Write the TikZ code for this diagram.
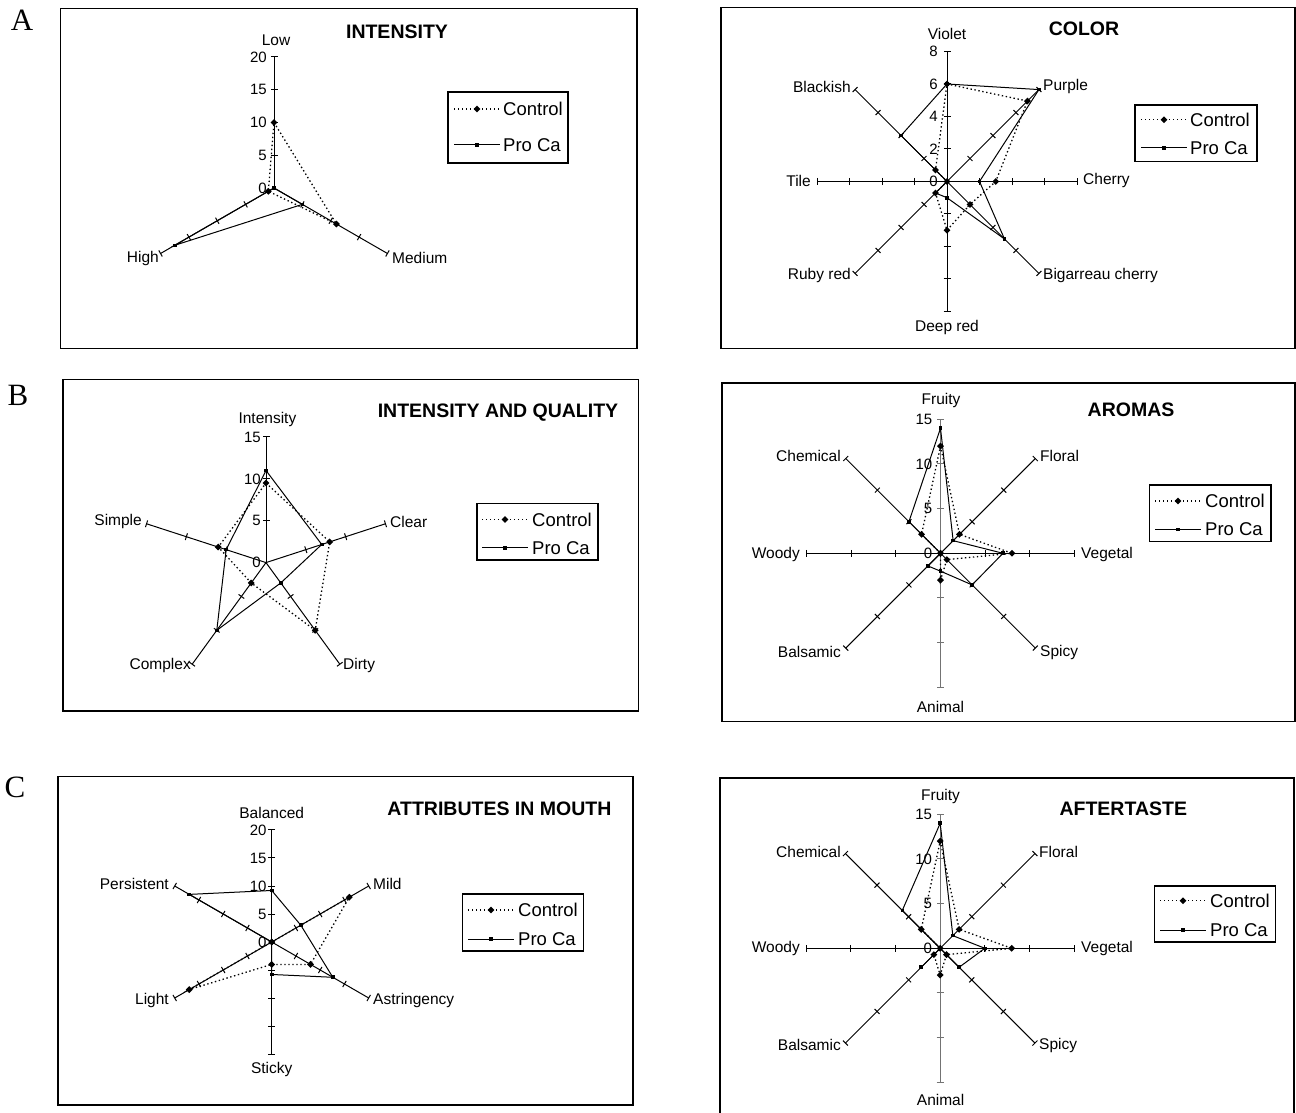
\documentclass[tikz,border=0pt]{standalone}
\usepackage{fontspec}
\setmainfont{Liberation Sans}
\newfontfamily\panelfont{Liberation Serif}
\usepackage{tikz}
\usetikzlibrary{shapes.geometric}

\begin{document}
\begin{tikzpicture}[x=1pt,y=1pt,
  panelbox/.style={line width=1.2pt},
  legbox/.style={line width=1.1pt},
  rayline/.style={line width=1pt},
  ctrl/.style={line width=1.3pt,dash pattern=on 1.4pt off 2.6pt},
  proca/.style={line width=1pt},
  cmark/.style={diamond,fill,inner sep=0pt,minimum size=7pt},
  pmark/.style={rectangle,fill,inner sep=0pt,minimum size=3.6pt},
  lbl/.style={font=\fontsize{15.5}{17}\selectfont,inner sep=1pt},
  numlbl/.style={font=\fontsize{15}{17}\selectfont,inner sep=1pt,anchor=east},
  ttl/.style={font=\fontsize{19.5}{21}\selectfont\bfseries,inner sep=0pt},
  lgd/.style={font=\fontsize{18.5}{20}\selectfont,anchor=west,inner sep=0pt},
  panelletter/.style={font=\panelfont\fontsize{31}{33}\selectfont,inner sep=0pt}]
  \useasboundingbox (0,0) rectangle (1296,1112);

  % panel letters
  \node[panelletter] (letA) at (22,1092) {A};
  \node[panelletter] (letB) at (18,717) {B};
  \node[panelletter] (letC) at (15,325) {C};

  % ---------- A left: intensity
  \draw[panelbox] (60.5,763.5) rectangle (637,1103.5);
  \node[ttl] (ttlInt) at (397,1080.5) {INTENSITY};
  \begin{scope}[shift={(274,924)}]
    \def\st{6.55}
    \foreach \a in {90,-30,210} {
      \draw[rayline] (0,0) -- (\a:131);
      \foreach \k in {1,...,4} \draw[rayline,rotate=\a] (\k*32.75,-3.5) -- (\k*32.75,3.5);
    }
    \foreach \v in {0,5,10,15,20} \node[numlbl] (intN\v) at (-6,\v*\st) {\v};
    \foreach \v [count=\i] in {10,11,1} \coordinate (c\i) at ({210-120*\i}:{\v*\st});
    \foreach \v [count=\i] in {0,5,17.5} \coordinate (p\i) at ({210-120*\i}:{\v*\st});
    \draw[ctrl] (c1) -- (c2) -- (c3) -- cycle;
    \draw[proca] (p1) -- (p2) -- (p3) -- cycle;
    \foreach \i in {1,2,3} {\node[cmark] (intC\i) at (c\i) {}; \node[pmark] (intP\i) at (p\i) {};}
  \end{scope}
  \node[lbl] (intLow) at (276,1072) {Low};
  \node[lbl,anchor=west] (intMed) at (391,854) {Medium};
  \node[lbl,anchor=east] (intHigh) at (160,854) {High};
  \draw[legbox] (448,949) rectangle (568,1020);
  \draw[ctrl] (454,1003) -- (500,1003);
  \node[cmark] (intKc) at (477,1003) {};
  \node[lgd] (intTc) at (503,1003) {Control};
  \draw[proca] (454,967) -- (500,967);
  \node[pmark] (intKp) at (477,967) {};
  \node[lgd] (intTp) at (503,967) {Pro Ca};

  % ---------- A right: color
  \draw[panelbox] (721,763.5) rectangle (1295,1104.5);
  \node[ttl] (ttlCol) at (1084,1083) {COLOR};
  \begin{scope}[shift={(947,930.5)}]
    \def\st{16.25}
    \foreach \a in {90,45,0,-45,-90,-135,180,135} {
      \draw[rayline] (0,0) -- (\a:130);
      \foreach \k in {1,...,4} \draw[rayline,rotate=\a] (\k*32.5,-3.5) -- (\k*32.5,3.5);
    }
    \foreach \v in {0,2,4,6,8} \node[numlbl] (colN\v) at (-8,\v*\st) {\v};
    \foreach \v [count=\i] in {6,7,3,2,3,1,0,1} \coordinate (c\i) at ({135-45*\i}:{\v*\st});
    \foreach \v [count=\i] in {6,8,2,5,1,1,0,4} \coordinate (p\i) at ({135-45*\i}:{\v*\st});
    \draw[ctrl] (c1) \foreach \i in {2,...,8} {-- (c\i)} -- cycle;
    \draw[proca] (p1) \foreach \i in {2,...,8} {-- (p\i)} -- cycle;
    \foreach \i in {1,...,8} {\node[cmark] (colC\i) at (c\i) {}; \node[pmark] (colP\i) at (p\i) {};}
  \end{scope}
  \node[lbl] (colViolet) at (947,1078.5) {Violet};
  \node[lbl,anchor=east] (colBlack) at (852,1025) {Blackish};
  \node[lbl,anchor=west] (colPurple) at (1042,1025) {Purple};
  \node[lbl,anchor=east] (colTile) at (812,931) {Tile};
  \node[lbl,anchor=west] (colCherry) at (1082,931) {Cherry};
  \node[lbl,anchor=east] (colRuby) at (852,837) {Ruby red};
  \node[lbl,anchor=west] (colBig) at (1042,837) {Bigarreau cherry};
  \node[lbl] (colDeep) at (947,784.5) {Deep red};
  \draw[legbox] (1135,950.3) rectangle (1257,1007);
  \draw[ctrl] (1141,992.3) -- (1187,992.3);
  \node[cmark] (colKc) at (1164,992.3) {};
  \node[lgd] (colTc) at (1190,992.3) {Control};
  \draw[proca] (1141,964) -- (1187,964);
  \node[pmark] (colKp) at (1164,964) {};
  \node[lgd] (colTp) at (1190,964) {Pro Ca};

  % ---------- B left: intensity and quality
  \draw[panelbox] (63,401) rectangle (638.5,732.5);
  \node[ttl] (ttlQua) at (498,699.6) {INTENSITY AND QUALITY};
  \begin{scope}[shift={(266,549.4)}]
    \def\st{8.373}
    \foreach \a in {90,18,-54,-126,162} {
      \draw[rayline] (0,0) -- (\a:125.6);
      \foreach \k in {1,2,3} \draw[rayline,rotate=\a] (\k*41.87,-3.5) -- (\k*41.87,3.5);
    }
    \foreach \v in {0,5,10,15} \node[numlbl] (quaN\v) at (-4,\v*\st) {\v};
    \foreach \v [count=\i] in {9.5,8,10,3,6} \coordinate (c\i) at ({162-72*\i}:{\v*\st});
    \foreach \v [count=\i] in {11,7,3,10,5} \coordinate (p\i) at ({162-72*\i}:{\v*\st});
    \draw[ctrl] (c1) \foreach \i in {2,...,5} {-- (c\i)} -- cycle;
    \draw[proca] (p1) \foreach \i in {2,...,5} {-- (p\i)} -- cycle;
    \foreach \i in {1,...,5} {\node[cmark] (quaC\i) at (c\i) {}; \node[pmark] (quaP\i) at (p\i) {};}
  \end{scope}
  \node[lbl] (quaInt) at (267.4,692.2) {Intensity};
  \node[lbl,anchor=east] (quaSimple) at (143,590.2) {Simple};
  \node[lbl,anchor=west] (quaClear) at (389,590.2) {Clear};
  \node[lbl,anchor=east] (quaComplex) at (192,447) {Complex};
  \node[lbl,anchor=west] (quaDirty) at (342,447) {Dirty};
  \draw[legbox] (477,552) rectangle (598,608.3);
  \draw[ctrl] (482,592.5) -- (528,592.5);
  \node[cmark] (quaKc) at (505,592.5) {};
  \node[lgd] (quaTc) at (532,592.5) {Control};
  \draw[proca] (482,564) -- (528,564);
  \node[pmark] (quaKp) at (505,564) {};
  \node[lgd] (quaTp) at (532,564) {Pro Ca};

  % ---------- B right: aromas
  \draw[panelbox] (722,390.5) rectangle (1295,729);
  \node[ttl] (ttlAro) at (1131,702.2) {AROMAS};
  \begin{scope}[shift={(940.5,558.7)}]
    \def\st{8.933}
    \foreach \a in {90,-90} {
      \draw[rayline,black!55] (0,0) -- (\a:134);
      \foreach \k in {1,2,3} \draw[rayline,black!55,rotate=\a] (\k*44.67,-3.5) -- (\k*44.67,3.5);
    }
    \foreach \a in {45,0,-45,-135,180,135} {
      \draw[rayline] (0,0) -- (\a:134);
      \foreach \k in {1,2,3} \draw[rayline,rotate=\a] (\k*44.67,-3.5) -- (\k*44.67,3.5);
    }
    \foreach \v in {0,5,10,15} \node[numlbl] (aroN\v) at (-7,\v*\st) {\v};
    \foreach \v [count=\i] in {12,3,8,1,3,0,0,3} \coordinate (c\i) at ({135-45*\i}:{\v*\st});
    \foreach \v [count=\i] in {14,2,7,5,2,2,0,5} \coordinate (p\i) at ({135-45*\i}:{\v*\st});
    \draw[ctrl] (c1) \foreach \i in {2,...,8} {-- (c\i)} -- cycle;
    \draw[proca] (p1) \foreach \i in {2,...,8} {-- (p\i)} -- cycle;
    \foreach \i in {1,...,8} {\node[cmark] (aroC\i) at (c\i) {}; \node[pmark] (aroP\i) at (p\i) {};}
  \end{scope}
  \node[lbl] (aroFruity) at (941,711.3) {Fruity};
  \node[lbl,anchor=east] (aroChem) at (842,656) {Chemical};
  \node[lbl,anchor=west] (aroFloral) at (1039,656) {Floral};
  \node[lbl,anchor=east] (aroWoody) at (801,558) {Woody};
  \node[lbl,anchor=west] (aroVeg) at (1080,558) {Vegetal};
  \node[lbl,anchor=east] (aroBals) at (842,460) {Balsamic};
  \node[lbl,anchor=west] (aroSpicy) at (1039,460) {Spicy};
  \node[lbl] (aroAnimal) at (940.5,405.2) {Animal};
  \draw[legbox] (1149.3,570.1) rectangle (1271,627);
  \draw[ctrl] (1155,611) -- (1201,611);
  \node[cmark] (aroKc) at (1178,611) {};
  \node[lgd] (aroTc) at (1205,611) {Control};
  \draw[proca] (1155,582.5) -- (1201,582.5);
  \node[pmark] (aroKp) at (1178,582.5) {};
  \node[lgd] (aroTp) at (1205,582.5) {Pro Ca};

  % ---------- C left: attributes in mouth
  \draw[panelbox] (58,7) rectangle (633,335.5);
  \node[ttl] (ttlMou) at (499.4,303.5) {ATTRIBUTES IN MOUTH};
  \begin{scope}[shift={(271.7,170)}]
    \def\st{5.6}
    \foreach \a in {90,30,-30,-90,210,150} {
      \draw[rayline] (0,0) -- (\a:112);
      \foreach \k in {1,...,4} \draw[rayline,rotate=\a] (\k*28,-3.5) -- (\k*28,3.5);
    }
    \foreach \v in {0,5,10,15,20} \node[numlbl] (mouN\v) at (-4,\v*\st) {\v};
    \foreach \v [count=\i] in {0,16,8,4,17,0} \coordinate (c\i) at ({150-60*\i}:{\v*\st});
    \foreach \v [count=\i] in {9.2,6,12.6,5.8,0,17} \coordinate (p\i) at ({150-60*\i}:{\v*\st});
    \draw[ctrl] (c1) \foreach \i in {2,...,6} {-- (c\i)} -- cycle;
    \draw[proca] (p1) \foreach \i in {2,...,6} {-- (p\i)} -- cycle;
    \foreach \i in {1,...,6} {\node[cmark] (mouC\i) at (c\i) {}; \node[pmark] (mouP\i) at (p\i) {};}
  \end{scope}
  \node[lbl] (mouBal) at (271.7,299.1) {Balanced};
  \node[lbl,anchor=east] (mouPers) at (170,228) {Persistent};
  \node[lbl,anchor=west] (mouMild) at (372,228) {Mild};
  \node[lbl,anchor=east] (mouLight) at (170,112) {Light};
  \node[lbl,anchor=west] (mouAstr) at (372,112) {Astringency};
  \node[lbl] (mouSticky) at (271.7,42.2) {Sticky};
  \draw[legbox] (462.7,161) rectangle (583.8,218);
  \draw[ctrl] (468,202) -- (514,202);
  \node[cmark] (mouKc) at (491,202) {};
  \node[lgd] (mouTc) at (518,202) {Control};
  \draw[proca] (468,173) -- (514,173);
  \node[pmark] (mouKp) at (491,173) {};
  \node[lgd] (mouTp) at (518,173) {Pro Ca};

  % ---------- C right: aftertaste
  \draw[panelbox] (720,-2) rectangle (1294,334);
  \node[ttl] (ttlAft) at (1123.3,303.7) {AFTERTASTE};
  \begin{scope}[shift={(940.2,163.7)}]
    \def\st{8.933}
    \foreach \a in {90,-90} {
      \draw[rayline,black!55] (0,0) -- (\a:134);
      \foreach \k in {1,2,3} \draw[rayline,black!55,rotate=\a] (\k*44.67,-3.5) -- (\k*44.67,3.5);
    }
    \foreach \a in {45,0,-45,-135,180,135} {
      \draw[rayline] (0,0) -- (\a:134);
      \foreach \k in {1,2,3} \draw[rayline,rotate=\a] (\k*44.67,-3.5) -- (\k*44.67,3.5);
    }
    \foreach \v in {0,5,10,15} \node[numlbl] (aftN\v) at (-7,\v*\st) {\v};
    \foreach \v [count=\i] in {12,3,8,1,3,1,0,3} \coordinate (c\i) at ({135-45*\i}:{\v*\st});
    \foreach \v [count=\i] in {14,2,5,3,0,3,0,6} \coordinate (p\i) at ({135-45*\i}:{\v*\st});
    \draw[ctrl] (c1) \foreach \i in {2,...,8} {-- (c\i)} -- cycle;
    \draw[proca] (p1) \foreach \i in {2,...,8} {-- (p\i)} -- cycle;
    \foreach \i in {1,...,8} {\node[cmark] (aftC\i) at (c\i) {}; \node[pmark] (aftP\i) at (p\i) {};}
  \end{scope}
  \node[lbl] (aftFruity) at (940.6,315.3) {Fruity};
  \node[lbl,anchor=east] (aftChem) at (842,259.7) {Chemical};
  \node[lbl,anchor=west] (aftFloral) at (1038,259.7) {Floral};
  \node[lbl,anchor=east] (aftWoody) at (801,163.7) {Woody};
  \node[lbl,anchor=west] (aftVeg) at (1080,163.7) {Vegetal};
  \node[lbl,anchor=east] (aftBals) at (842,67) {Balsamic};
  \node[lbl,anchor=west] (aftSpicy) at (1038,67) {Spicy};
  \node[lbl] (aftAnimal) at (940.6,12) {Animal};
  \draw[legbox] (1154.7,170) rectangle (1275.4,226);
  \draw[ctrl] (1160,211.3) -- (1206,211.3);
  \node[cmark] (aftKc) at (1183,211.3) {};
  \node[lgd] (aftTc) at (1210,211.3) {Control};
  \draw[proca] (1160,182) -- (1206,182);
  \node[pmark] (aftKp) at (1183,182) {};
  \node[lgd] (aftTp) at (1210,182) {Pro Ca};
\end{tikzpicture}
\end{document}
